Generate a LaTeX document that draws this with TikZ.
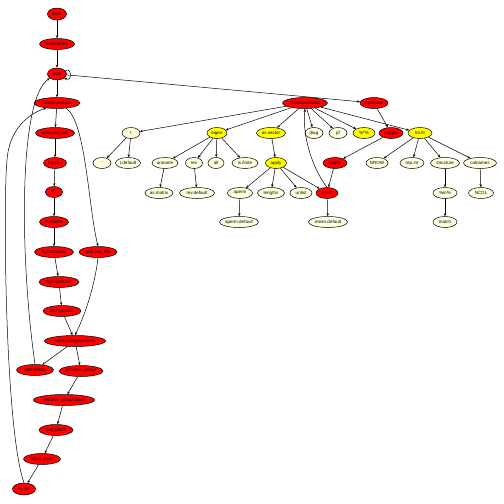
\documentclass[tikz,border=0pt]{standalone}
\usepackage{fontspec}
\setmainfont{Liberation Sans}
\usetikzlibrary{shapes.geometric,arrows.meta}
\definecolor{cream}{HTML}{FFFFE0}
\definecolor{fnred}{HTML}{FF0000}
\definecolor{fnyel}{HTML}{FFFF00}
\tikzset{
  fn/.style={ellipse,draw=black,line width=0.5pt,inner sep=0pt,minimum height=11pt,
    font=\fontsize{4.5}{5}\selectfont},
  rf/.style={fn,fill=fnred},
  yf/.style={fn,fill=fnyel},
  cf/.style={fn,fill=cream},
  e/.style={line width=0.5pt,-{Stealth[length=3pt,width=2.4pt]}}
}
\begin{document}
\begin{tikzpicture}[x=1pt,y=-1pt]
\useasboundingbox (0,0) rectangle (504,504);
% left chain
\node[rf,minimum width=19pt,minimum height=12pt] (local) at (57,14) {local};
\node[rf,minimum width=35pt] (evalparent) at (57,44) {eval.parent};
\node[rf,minimum width=19pt,minimum height=12pt] (eval) at (57,74) {eval};
\node[rf,minimum width=46pt] (anon) at (57,103) {<Anonymous>};
\node[rf,minimum width=39pt] (evalcall) at (55,133) {evaluate\_call};
\node[rf,minimum width=23pt] (handle) at (55,163) {handle};
\node[rf,minimum width=17pt] (try) at (54,192) {try};
\node[rf,minimum width=29pt] (tryCatch) at (54,222) {tryCatch};
\node[rf,minimum width=39pt] (tcList) at (54,252) {tryCatchList};
\node[rf,minimum width=38pt] (pfile) at (98,252) {process\_file};
\node[rf,minimum width=40pt] (tcOne) at (59,282) {tryCatchOne};
\node[rf,minimum width=38pt] (doTC) at (62,311) {doTryCatch};
\node[rf,minimum width=61pt] (wch) at (75,341) {withCallingHandlers};
\node[rf,minimum width=37pt] (wvis) at (35,370) {withVisible};
\node[rf,minimum width=44pt] (pgroup) at (81,371) {process\_group};
\node[rf,minimum width=61pt] (pgblock) at (64,400) {process\_group.block};
\node[rf,minimum width=34pt] (cblock) at (56,430) {call\_block};
\node[rf,minimum width=37pt] (bexec) at (42,459) {block\_exec};
\node[rf,minimum width=23pt,minimum height=12pt] (indir) at (24,489) {in\_dir};
% right part
\node[rf,minimum width=45pt] (wilks) at (305,103) {Wilks.lambda2};
\node[rf,minimum width=28pt] (repl) at (374,103) {replicate};
\node[cf,minimum width=18pt] (t) at (131,133) {t};
\node[yf,minimum width=20pt] (eigen) at (217,133) {eigen};
\node[yf,minimum width=29pt] (asvec) at (271,133) {as.vector};
\node[cf,minimum width=18pt] (diag) at (314,133) {diag};
\node[cf,minimum width=18pt] (pf) at (338,133) {pf};
\node[yf,minimum width=22pt] (mm) at (364,133) {\%*\%};
\node[rf,minimum width=24pt] (sapply) at (391,133) {sapply};
\node[yf,minimum width=24pt] (lmfit) at (420,133) {lm.fit};
\node[cf,minimum width=18pt] (minus) at (102,163) {-};
\node[cf,minimum width=25pt] (tdef) at (128,163) {t.default};
\node[cf,minimum width=26pt] (unname) at (165,163) {unname};
\node[cf,minimum width=17pt] (rev) at (194,163) {rev};
\node[cf,minimum width=16pt] (all) at (216,163) {all};
\node[cf,minimum width=26pt] (isfin) at (245,163) {is.finite};
\node[yf,minimum width=21pt] (apply) at (276,163) {apply};
\node[rf,minimum width=24pt] (lapply) at (335,163) {lapply};
\node[cf,minimum width=22pt] (nrow) at (377,163) {NROW};
\node[cf,minimum width=24pt] (repint) at (412,163) {rep.int};
\node[cf,minimum width=29pt] (struct) at (445,163) {structure};
\node[cf,minimum width=33pt] (coln) at (480,163) {colnames};
\node[cf,minimum width=28pt] (asmat) at (159,193) {as.matrix};
\node[cf,minimum width=35pt] (revdef) at (197,193) {rev.default};
\node[cf,minimum width=25pt] (aperm) at (240,193) {aperm};
\node[cf,minimum width=27pt] (lengths) at (271,193) {lengths};
\node[cf,minimum width=22pt] (unlist) at (301,193) {unlist};
\node[rf,minimum width=22pt] (FUN) at (327,193) {FUN};
\node[cf,minimum width=24pt] (inop) at (445,193) {\%in\%};
\node[cf,minimum width=25pt] (ncol) at (481,193) {NCOL};
\node[cf,minimum width=38pt] (apdef) at (239,222) {aperm.default};
\node[cf,minimum width=39pt] (meandef) at (328,222) {mean.default};
\node[cf,minimum width=24pt] (match) at (445,222) {match};
% left edges
\draw[e] (local) -- (evalparent);
\draw[e] (evalparent) -- (eval);
\draw[e] (eval) -- (anon);
\draw[e] (anon) -- (evalcall);
\draw[e] (evalcall) -- (handle);
\draw[e] (handle) -- (try);
\draw[e] (try) -- (tryCatch);
\draw[e] (tryCatch) -- (tcList);
\draw[e] (tcList) -- (tcOne);
\draw[e] (tcOne) -- (doTC);
\draw[e] (doTC) -- (wch);
\draw[e] (wch) -- (wvis);
\draw[e] (wch) -- (pgroup);
\draw[e] (pgroup) -- (pgblock);
\draw[e] (pgblock) -- (cblock);
\draw[e] (cblock) -- (bexec);
\draw[e] (bexec) -- (indir);
\draw[e] (anon.-30) .. controls (86,122) and (88,205) .. (pfile.north);
\draw[e] (pfile.south) .. controls (95,285) and (85,315) .. (wch.north);
\draw[e] (wvis.north) .. controls (20,260) and (18,100) .. (eval.-150);
\draw[e] (indir.north) .. controls (5,430) and (3,200) .. (7,160) .. controls (9,130) and (28,114) .. (anon.-155);
\draw[e] (eval.20) .. controls (71,66) and (73,82) .. (eval.-30);
% right edges
\draw[e] (eval.-5) -- (repl);
\draw[e] (repl) -- (sapply);
\draw[e] (sapply) -- (lapply);
\draw[e] (lapply) -- (FUN);
\draw[e] (FUN.north) .. controls (312,168) and (302,135) .. (wilks.south);
\draw[e] (FUN) -- (meandef);
\draw[e] (wilks) -- (t);
\draw[e] (wilks) -- (eigen);
\draw[e] (wilks) -- (asvec);
\draw[e] (wilks) -- (diag);
\draw[e] (wilks) -- (pf);
\draw[e] (wilks) -- (mm);
\draw[e] (wilks) -- (lmfit);
\draw[e] (t) -- (minus);
\draw[e] (t) -- (tdef);
\draw[e] (eigen) -- (unname);
\draw[e] (eigen) -- (rev);
\draw[e] (eigen) -- (all);
\draw[e] (eigen) -- (isfin);
\draw[e] (unname) -- (asmat);
\draw[e] (rev) -- (revdef);
\draw[e] (asvec) -- (apply);
\draw[e] (apply) -- (aperm);
\draw[e] (apply) -- (lengths);
\draw[e] (apply) -- (unlist);
\draw[e] (apply) -- (FUN);
\draw[e] (aperm) -- (apdef);
\draw[e] (lmfit) -- (nrow);
\draw[e] (lmfit) -- (repint);
\draw[e] (lmfit) -- (struct);
\draw[e] (lmfit) -- (coln);
\draw[e] (struct) -- (inop);
\draw[e] (inop) -- (match);
\draw[e] (coln) -- (ncol);
\end{tikzpicture}
\end{document}
